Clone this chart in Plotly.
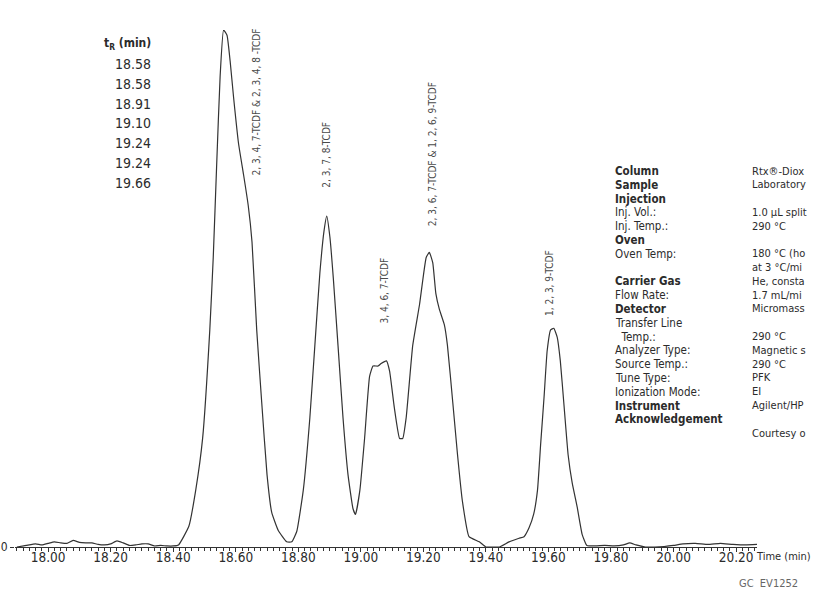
import plotly.graph_objects as go

# ---------------- data ----------------
time_min = [17.90, 17.93, 17.96, 17.98, 18.00, 18.02, 18.04, 18.06, 18.08, 18.10,
            18.12, 18.14, 18.16, 18.18, 18.20, 18.22, 18.24, 18.26, 18.28, 18.30,
            18.32, 18.34, 18.36, 18.38, 18.40, 18.417, 18.45, 18.472, 18.494, 18.517,
            18.528, 18.539, 18.55, 18.561, 18.572, 18.582, 18.593, 18.609, 18.625, 18.640,
            18.652, 18.667, 18.683, 18.700, 18.715, 18.736, 18.763, 18.779, 18.795, 18.816,
            18.837, 18.853, 18.869, 18.882, 18.891, 18.901, 18.912, 18.927, 18.943, 18.959,
            18.975, 18.983, 18.997, 19.012, 19.028, 19.039, 19.055, 19.065, 19.082, 19.092,
            19.107, 19.124, 19.134, 19.145, 19.166, 19.188, 19.209, 19.219, 19.230, 19.240,
            19.251, 19.267, 19.277, 19.294, 19.309, 19.325, 19.346, 19.379, 19.400, 19.410,
            19.443, 19.474, 19.506, 19.522, 19.538, 19.553, 19.565, 19.575, 19.586, 19.596,
            19.607, 19.617, 19.628, 19.638, 19.649, 19.663, 19.676, 19.692, 19.708, 19.723,
            19.750, 19.78, 19.81, 19.84, 19.86, 19.88, 19.91, 19.94, 19.97, 20.00,
            20.03, 20.07, 20.11, 20.15, 20.19, 20.23, 20.27]
signal = [0.000, 0.003, 0.006, 0.004, 0.007, 0.010, 0.008, 0.007, 0.013, 0.009,
          0.008, 0.008, 0.005, 0.004, 0.006, 0.012, 0.008, 0.003, 0.004, 0.006,
          0.006, 0.002, 0.003, 0.002, 0.002, 0.004, 0.04, 0.11, 0.21, 0.42,
          0.56, 0.74, 0.91, 1.0, 0.99, 0.94, 0.87, 0.78, 0.72, 0.66,
          0.59, 0.42, 0.28, 0.14, 0.067, 0.032, 0.01, 0.01, 0.03, 0.11,
          0.25, 0.39, 0.53, 0.61, 0.64, 0.60, 0.52, 0.39, 0.25, 0.14,
          0.074, 0.063, 0.11, 0.21, 0.33, 0.35, 0.35, 0.355, 0.36, 0.34,
          0.27, 0.21, 0.21, 0.25, 0.39, 0.47, 0.56, 0.57, 0.55, 0.49,
          0.46, 0.43, 0.39, 0.28, 0.18, 0.088, 0.02, 0.01, 0.0, 0.0,
          0.0, 0.01, 0.017, 0.02, 0.037, 0.064, 0.11, 0.198, 0.29, 0.38,
          0.42, 0.423, 0.406, 0.36, 0.28, 0.178, 0.124, 0.077, 0.024, 0.003,
          0.002, 0.003, 0.002, 0.004, 0.008, 0.004, 0.0, 0.0, 0.001, 0.003,
          0.006, 0.007, 0.005, 0.007, 0.005, 0.004, 0.005]

tick_values = [18.0, 18.2, 18.4, 18.6, 18.8, 19.0, 19.2, 19.4, 19.6, 19.8, 20.0, 20.2]
tick_labels = ["18.00", "18.20", "18.40", "18.60", "18.80", "19.00", "19.20",
               "19.40", "19.60", "19.80", "20.00", "20.20"]

peak_names = ["2, 3, 4, 7-TCDF & 2, 3, 4, 8 -TCDF", "2, 3, 7, 8-TCDF", "3, 4, 6, 7-TCDF",
              "2, 3, 6, 7-TCDF & 1, 2, 6, 9-TCDF", "1, 2, 3, 9-TCDF"]
peak_label_t = [18.665, 18.890, 19.075, 19.228, 19.605]
peak_label_y = [0.714, 0.692, 0.429, 0.617, 0.443]

tr_values = ["18.58", "18.58", "18.91", "19.10", "19.24", "19.24", "19.66"]

panel_labels = ["Column", "Sample", "Injection", "Inj. Vol.:", "Inj. Temp.:", "Oven",
                "Oven Temp:", "", "Carrier Gas", "Flow Rate:", "Detector", "Transfer Line",
                "\u00a0\u00a0Temp.:", "Analyzer Type:", "Source Temp.:", "Tune Type:",
                "Ionization Mode:", "Instrument", "Acknowledgement", ""]
panel_bold = [True, True, True, False, False, True, False, False, True, False, True,
              False, False, False, False, False, False, True, True, False]
panel_values = ["Rtx®-Diox", "Laboratory", "", "1.0 µL split", "290 °C", "",
                "180 °C (ho", "at 3 °C/mi", "He, consta", "1.7 mL/mi", "Micromass",
                "", "290 °C", "Magnetic s", "290 °C", "PFK", "EI", "Agilent/HP", "",
                "Courtesy o"]

# ---------------- layout helpers ----------------
W, H = 813, 589
ML, MR, MT, MB = 15, 56, 30, 42
PW, PH = W - ML - MR, H - MT - MB
FONT = "DejaVu Sans Condensed, Liberation Sans Narrow, Roboto Condensed, sans-serif"
INK = "#2b2b2b"


def px(x):
    return (x - ML) / PW


def py(y):
    return (H - MB - y) / PH


fig = go.Figure()
fig.add_trace(go.Scatter(x=time_min, y=signal, mode="lines",
                         line=dict(color="#333333", width=1.2, shape="spline", smoothing=0.4),
                         hoverinfo="skip", showlegend=False))

ann = []
for name, t, yv in zip(peak_names, peak_label_t, peak_label_y):
    ann.append(dict(x=t, y=yv, xref="x", yref="y", text=name, textangle=-90,
                    showarrow=False, xanchor="center", yanchor="bottom",
                    font=dict(family=FONT, size=10, color="#4a4a4a")))

ann.append(dict(x=px(153), y=py(44), xref="paper", yref="paper",
                text="<b>t<sub>R</sub> (min)</b>", showarrow=False,
                xanchor="right", yanchor="middle", font=dict(family=FONT, size=12, color=INK)))
for i, v in enumerate(tr_values):
    ann.append(dict(x=px(153), y=py(64 + 19.8 * i), xref="paper", yref="paper",
                    text=v, showarrow=False, xanchor="right", yanchor="middle",
                    font=dict(family=FONT, size=14, color=INK)))

for i, (lab, b, val) in enumerate(zip(panel_labels, panel_bold, panel_values)):
    yy = py(171 + 13.8 * i)
    if lab:
        ann.append(dict(x=px(614), y=yy, xref="paper", yref="paper",
                        text=f"<b>{lab}</b>" if b else lab, showarrow=False,
                        xanchor="left", yanchor="middle", borderpad=0,
                        font=dict(family=FONT, size=11.5, color=INK)))
    if val:
        ann.append(dict(x=px(751), y=yy, xref="paper", yref="paper",
                        text=val, showarrow=False, xanchor="left", yanchor="middle",
                        borderpad=0, font=dict(family=FONT, size=11, color=INK)))

ann.append(dict(x=px(812), y=py(556), xref="paper", yref="paper", text="Time (min)",
                showarrow=False, xanchor="right", yanchor="middle", borderpad=0,
                font=dict(family=FONT, size=11, color=INK)))
ann.append(dict(x=px(768), y=py(583), xref="paper", yref="paper", text="GC  EV1252",
                showarrow=False, xanchor="center", yanchor="middle",
                font=dict(family=FONT, size=11, color="#666666")))

fig.update_layout(
    width=W, height=H, margin=dict(l=ML, r=MR, t=MT, b=MB),
    paper_bgcolor="white", plot_bgcolor="white",
    annotations=ann,
    xaxis=dict(range=[17.894, 20.267], tickvals=tick_values, ticktext=tick_labels,
               automargin=False, ticklabelstandoff=-6,
               showline=True, linecolor="#333333", linewidth=1.2,
               ticks="outside", ticklen=4, tickcolor="#333333", tickwidth=1.2,
               minor=dict(dtick=0.02, tick0=18.0, ticks="outside", ticklen=3,
                          tickcolor="#333333", tickwidth=1),
               showgrid=False, zeroline=False,
               tickfont=dict(family=FONT, size=13.5, color=INK)),
    yaxis=dict(range=[0, 1.0], tickvals=[0], ticktext=["0"], ticks="outside", ticklen=4,
               automargin=False,
               tickcolor="#333333", showline=False, showgrid=False, zeroline=False,
               tickfont=dict(family=FONT, size=12, color=INK)),
)

fig.write_html("out.html", config={"displayModeBar": False},
               post_script="document.body.style.margin='0';")
